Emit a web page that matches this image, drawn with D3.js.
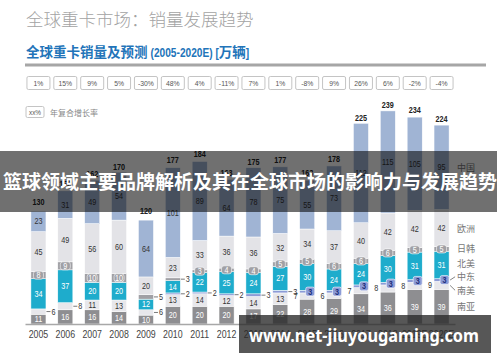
<!DOCTYPE html>
<html>
<head>
<meta charset="utf-8">
<script src="https://cdn.jsdelivr.net/npm/d3@7"></script>
<style>
  body { margin: 0; background: #fff; }
  svg { display: block; }
</style>
</head>
<body>
<div class="chart"></div>
<script>
// data (万辆)
const years = ['2005','2006','2007','2008','2009','2010','2011','2012','2013','2014','2015','2016','2017','2018','2019E','2020E'];
const growth = ['1%','15%','9%','5%','-30%','48%','4%','-11%','7%','1%','-8%','9%','26%','6%','-2%','-4%'];
const totals = [130,150,162,170,120,177,184,163,175,177,163,178,225,239,234,224];
const regions = ['南亚','南美','中东','北美','日韩','欧洲','中国'];

const southAsia    = [11,16,16,14,10,20,20,20,17,22,28,29,34,36,39,39];
const southAmerica = [6,8,11,13,6,13,14,12,14,13,7,6,7,8,8,9];
const middleEast   = [0,0,0,0,0,2,2,2,3,3,3,3,3,3,3,3];
const northAmerica = [34,37,20,20,12,14,22,25,24,27,30,24,24,30,31,31];
const japanKorea   = [8,9,10,10,5,3,3,4,4,5,5,6,6,6,5,5];
const europe       = [45,49,56,60,20,23,33,36,36,32,34,37,40,42,42,42];
const china        = [23,31,49,54,64,101,89,64,78,75,55,73,112,115,105,95];

const numFont = "'Liberation Sans','Arial',sans-serif";
const cjkFont = "'Noto Sans CJK SC','Noto Sans',sans-serif";

// squeeze texts horizontally, the original uses a narrow face
function narrow(sel, f) {
    sel.each(function () {
        const w = this.getComputedTextLength();
        d3.select(this).attr('textLength', w * f).attr('lengthAdjust', 'spacingAndGlyphs');
    });
}

const width = 500, height = 362;
const svg = d3.select('.chart').append('svg')
    .attr('width', width)
    .attr('height', height);

const table = years.map((y, i) => ({
    year: y, i: i,
    '南亚': southAsia[i], '南美': southAmerica[i], '中东': middleEast[i],
    '北美': northAmerica[i], '日韩': japanKorea[i], '欧洲': europe[i], '中国': china[i]
}));
const series = d3.stack().keys(regions)(table);

const xScale = d3.scaleBand()
    .domain(years)
    .range([25, 455])
    .paddingInner(0.44)
    .paddingOuter(0.22);

const yScale = d3.scaleLinear()
    .domain([0, 240])
    .range([324, 110.9]);

const colorScale = d3.scaleOrdinal()
    .domain(regions)
    .range(['#8e8e91', '#e7e7eb', '#8c9bd6', '#1eaccc', '#a0a0a5', '#e3e3e7', '#a0b4d4']);

const textColor = d3.scaleOrdinal()
    .domain(regions)
    .range(['#fff', '#333', '#1d2e7a', '#fff', '#fff', '#333', '#333']);

// titles
svg.append('text')
    .attr('x', 26).attr('y', 26)
    .style('font-family', cjkFont)
    .style('font-size', '17.5px')
    .style('font-weight', 300)
    .attr('fill', '#a3a3a3')
    .text('全球重卡市场：销量发展趋势');

const sub = svg.append('text')
    .attr('x', 26).attr('y', 57)
    .style('font-weight', 'bold')
    .attr('fill', '#2274b9');
sub.append('tspan').style('font-family', cjkFont).style('font-size', '13.5px').text('全球重卡销量及预测 ');
sub.append('tspan').attr('class', 'lat').style('font-family', numFont).style('font-size', '13px').text('(2005-2020E) [');
sub.append('tspan').style('font-family', cjkFont).style('font-size', '13.5px').text('万辆');
sub.append('tspan').attr('class', 'lat').style('font-family', numFont).style('font-size', '13px').text(']');
narrow(sub.selectAll('.lat'), 0.78);

svg.append('line')
    .attr('x1', 25).attr('x2', 486)
    .attr('y1', 65).attr('y2', 65)
    .attr('stroke', '#a6a6a6')
    .attr('stroke-width', 3);

// growth boxes
const gBox = svg.selectAll('.growth')
    .data(growth)
    .enter()
    .append('g')
    .attr('class', 'growth')
    .attr('transform', (d, i) => `translate(${xScale(years[i]) + xScale.bandwidth() / 2}, 83)`);
gBox.append('rect')
    .attr('x', -11.5).attr('y', -6.5)
    .attr('width', 23).attr('height', 13)
    .attr('rx', 1.5)
    .attr('fill', '#fff')
    .attr('stroke', '#c4c4c4');
gBox.append('text')
    .attr('text-anchor', 'middle')
    .attr('y', 3)
    .style('font-family', numFont)
    .style('font-size', '8px')
    .attr('fill', '#555')
    .text(d => d)
    .call(narrow, 0.85);

// note
svg.append('rect')
    .attr('x', 26).attr('y', 106.5)
    .attr('width', 18).attr('height', 11)
    .attr('rx', 1.5)
    .attr('fill', '#fff')
    .attr('stroke', '#c4c4c4');
svg.append('text')
    .attr('x', 35).attr('y', 115)
    .attr('text-anchor', 'middle')
    .style('font-family', numFont)
    .style('font-size', '7.5px')
    .attr('fill', '#555')
    .text('xx%')
    .call(narrow, 0.85);
svg.append('text')
    .attr('x', 50).attr('y', 115.5)
    .style('font-family', cjkFont)
    .style('font-size', '8px')
    .attr('fill', '#888')
    .text('年复合增长率');

// bars
const layer = svg.selectAll('.layer')
    .data(series)
    .enter()
    .append('g')
    .attr('class', 'layer')
    .attr('fill', d => colorScale(d.key));

layer.selectAll('rect')
    .data(d => d)
    .enter()
    .append('rect')
    .attr('x', d => xScale(d.data.year))
    .attr('width', xScale.bandwidth())
    .attr('y', d => yScale(d[1]))
    .attr('height', d => yScale(d[0]) - yScale(d[1]))
    .attr('stroke', '#fff')
    .attr('stroke-width', 0.5);

// segment labels
const labels = svg.append('g');
series.forEach(s => {
    s.forEach(d => {
        const key = s.key;
        const i = d.data.i;
        const v = d.data[key];
        if (!v) return;
        const x0 = xScale(d.data.year);
        const cx = x0 + xScale.bandwidth() / 2;
        const right = x0 + xScale.bandwidth();
        const my = (yScale(d[0]) + yScale(d[1])) / 2;

        let mode = 'inside';
        if (key === '中东') mode = i < 10 ? 'right' : 'box';
        if (key === '南美' && v < 10) mode = i < 10 ? 'right' : 'left';
        if (key === '日韩') mode = northAmerica[i] < 15 ? 'right' : 'tab';

        if (mode === 'right') {
            labels.append('line')
                .attr('x1', right + 0.5).attr('x2', right + 4.5)
                .attr('y1', my).attr('y2', my)
                .attr('stroke', '#555').attr('stroke-width', 0.8);
            labels.append('text')
                .attr('class', 'seg')
                .attr('x', right + 5.5).attr('y', my + 3)
                .style('font-family', numFont).style('font-size', '8.5px')
                .attr('fill', '#333')
                .text(v);
            return;
        }
        if (mode === 'left') {
            labels.append('text')
                .attr('class', 'seg')
                .attr('x', x0 - 2).attr('y', my + 3)
                .attr('text-anchor', 'end')
                .style('font-family', numFont).style('font-size', '8.5px')
                .attr('fill', '#333')
                .text(v);
            return;
        }
        let tx = cx;
        if (mode === 'box') {
            tx = cx + 3;
            labels.append('rect')
                .attr('x', tx - 4.5).attr('y', my - 4.5)
                .attr('width', 9).attr('height', 9)
                .attr('rx', 2)
                .attr('fill', colorScale(key))
                .attr('stroke', '#fff').attr('stroke-width', 0.6);
        }
        if (mode === 'tab') {
            labels.append('rect')
                .attr('x', cx - 5).attr('y', my - 4)
                .attr('width', 10).attr('height', 8)
                .attr('rx', 2.5)
                .attr('fill', colorScale(key))
                .attr('stroke', '#fff').attr('stroke-width', 0.6);
        }
        labels.append('text')
            .attr('class', 'seg')
            .attr('x', tx).attr('y', my + 3)
            .attr('text-anchor', 'middle')
            .style('font-family', numFont).style('font-size', '8.5px')
            .style('font-weight', mode === 'box' ? 'bold' : 'normal')
            .attr('fill', textColor(key))
            .text(v);
    });
});
narrow(labels.selectAll('.seg'), 0.85);

// totals
svg.selectAll('.total')
    .data(totals)
    .enter()
    .append('text')
    .attr('class', 'total')
    .attr('x', (d, i) => xScale(years[i]) + xScale.bandwidth() / 2)
    .attr('y', d => yScale(d) - 3.5)
    .attr('text-anchor', 'middle')
    .style('font-family', numFont)
    .style('font-size', '8.5px')
    .style('font-weight', 'bold')
    .attr('fill', '#222')
    .text(d => d)
    .call(narrow, 0.85);

// x axis
const xAxis = d3.axisBottom(xScale).tickSize(0).tickPadding(6.5);
const ax = svg.append('g')
    .attr('transform', 'translate(0, 324)')
    .call(xAxis);
ax.select('.domain').attr('stroke', '#a8a8a8').attr('stroke-width', 1.5);
ax.selectAll('text')
    .style('font-family', numFont)
    .style('font-size', '11px')
    .attr('fill', '#444')
    .call(narrow, 0.8);

// region legend beside the last bar
const last = years.length - 1;
const lastX = xScale(years[last]) + xScale.bandwidth();
const legend = series.map(s => ({
    key: s.key,
    mid: (yScale(s[last][0]) + yScale(s[last][1])) / 2
}));
legend.forEach(d => d.y = d.mid);
for (let k = 0; k < 60; k++) {
    for (let j = 1; j < legend.length; j++) {
        const a = legend[j - 1], b = legend[j];
        const gap = a.y - b.y;
        if (gap < 13.5) {
            const push = (13.5 - gap) / 2;
            a.y += push;
            b.y -= push;
        }
    }
}
legend.filter(d => Math.abs(d.y - d.mid) > 3).forEach(d => {
    svg.append('line')
        .attr('x1', lastX + 1).attr('y1', d.mid)
        .attr('x2', lastX + 6).attr('y2', d.y)
        .attr('stroke', '#666').attr('stroke-width', 0.8);
});
svg.selectAll('.legendLabel')
    .data(legend)
    .enter()
    .append('text')
    .attr('class', 'legendLabel')
    .attr('x', lastX + 8)
    .attr('y', d => d.y + 3.5)
    .style('font-family', cjkFont)
    .style('font-size', '9px')
    .attr('fill', '#777')
    .text(d => d.key);

// overlay banner
svg.append('rect')
    .attr('x', 0).attr('y', 151)
    .attr('width', 497).attr('height', 61)
    .attr('fill', 'rgba(0,0,0,0.56)');
svg.append('text')
    .attr('x', 250).attr('y', 189)
    .attr('text-anchor', 'middle')
    .style('font-family', cjkFont)
    .style('font-size', '19px')
    .style('font-weight', 'bold')
    .attr('fill', '#fff')
    .text('篮球领域主要品牌解析及其在全球市场的影响力与发展趋势');

// watermark
svg.append('rect')
    .attr('x', 239).attr('y', 315)
    .attr('width', 252).attr('height', 38)
    .attr('fill', 'rgba(40,40,40,0.78)');
svg.append('text')
    .attr('x', 364).attr('y', 342)
    .attr('text-anchor', 'middle')
    .attr('textLength', 230)
    .attr('lengthAdjust', 'spacingAndGlyphs')
    .style('font-family', "'Noto Sans','DejaVu Sans',sans-serif")
    .style('font-size', '18px')
    .style('font-weight', 'bold')
    .attr('fill', '#fff')
    .text('www.net-jiuyougaming.com');
</script>
</body>
</html>
